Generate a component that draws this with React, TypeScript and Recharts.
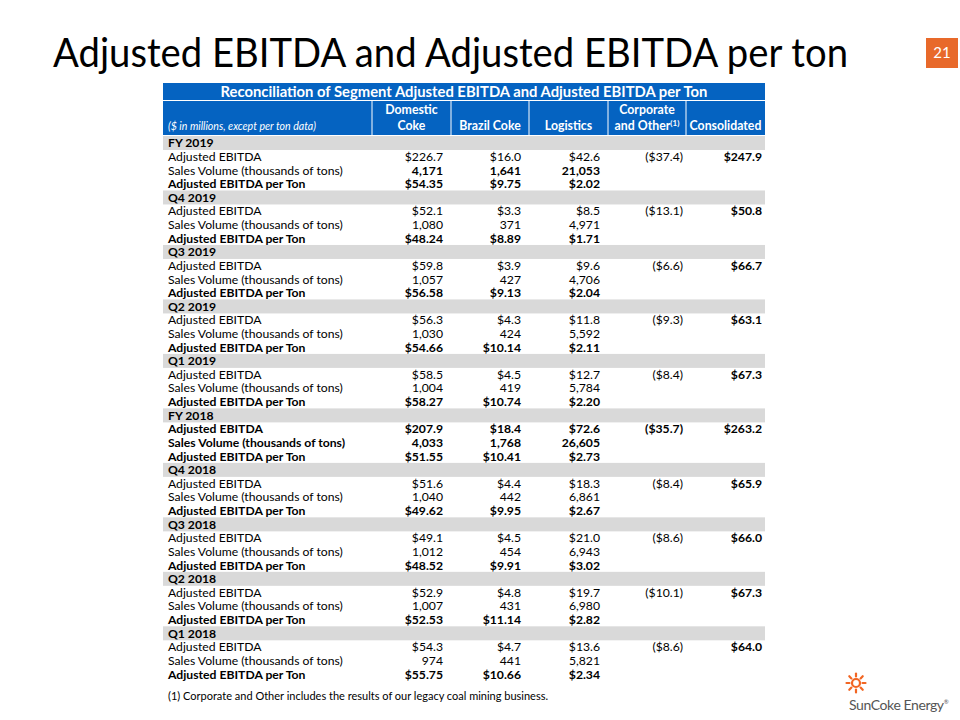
import React from 'react';
import { BarChart, Bar, XAxis, YAxis, Text } from 'recharts';

// periods, newest first
const periods = ['FY 2019', 'Q4 2019', 'Q3 2019', 'Q2 2019', 'Q1 2019', 'FY 2018', 'Q4 2018', 'Q3 2018', 'Q2 2018', 'Q1 2018'];

// Adjusted EBITDA ($ millions)
const domesticEbitda = [226.7, 52.1, 59.8, 56.3, 58.5, 207.9, 51.6, 49.1, 52.9, 54.3];
const brazilEbitda = [16.0, 3.3, 3.9, 4.3, 4.5, 18.4, 4.4, 4.5, 4.8, 4.7];
const logisticsEbitda = [42.6, 8.5, 9.6, 11.8, 12.7, 72.6, 18.3, 21.0, 19.7, 13.6];
const corporateEbitda = [-37.4, -13.1, -6.6, -9.3, -8.4, -35.7, -8.4, -8.6, -10.1, -8.6];
const consolidatedEbitda = [247.9, 50.8, 66.7, 63.1, 67.3, 263.2, 65.9, 66.0, 67.3, 64.0];

// Sales volume (thousands of tons)
const domesticVolume = [4171, 1080, 1057, 1030, 1004, 4033, 1040, 1012, 1007, 974];
const brazilVolume = [1641, 371, 427, 424, 419, 1768, 442, 454, 431, 441];
const logisticsVolume = [21053, 4971, 4706, 5592, 5784, 26605, 6861, 6943, 6980, 5821];

// Adjusted EBITDA per ton ($)
const domesticPerTon = [54.35, 48.24, 56.58, 54.66, 58.27, 51.55, 49.62, 48.52, 52.53, 55.75];
const brazilPerTon = [9.75, 8.89, 9.13, 10.14, 10.74, 10.41, 9.95, 9.91, 11.14, 10.66];
const logisticsPerTon = [2.02, 1.71, 2.04, 2.11, 2.2, 2.73, 2.67, 3.02, 2.82, 2.34];

const columns = ['Domestic Coke', 'Brazil Coke', 'Logistics', 'Corporate and Other', 'Consolidated'];
const boldPeriods = ['FY 2018'];

const BLUE = '#0563C1';
const BAND = '#D9D9D9';
const FONT = 'Lato, "Open Sans", sans-serif';

const TABLE_X = 163;
const TABLE_W = 602;
const ROW_H = 13.62;
// column separators and value right edges, relative to table left
const SEPS = [209, 288, 366, 445, 523];
const RIGHTS = [280, 358, 437, 520, 599];

const money1 = (v?: number) => (v == null ? '' : v < 0 ? `($${Math.abs(v).toFixed(1)})` : `$${v.toFixed(1)}`);
const money2 = (v?: number) => (v == null ? '' : `$${v.toFixed(2)}`);
const count = (v?: number) => (v == null ? '' : v.toLocaleString('en-US'));

type Row = { id: string; slot: number; kind: string; label: string; cells: string[]; bold: boolean; boldCells?: boolean };

const rows: Row[] = [];
periods.forEach((p, i) => {
  const b = boldPeriods.includes(p);
  rows.push({ id: p, slot: 1, kind: 'group', label: p, cells: [], bold: true });
  rows.push({
    id: `${p}-e`, slot: 1, kind: 'ebitda', label: 'Adjusted EBITDA', bold: b,
    cells: [money1(domesticEbitda[i]), money1(brazilEbitda[i]), money1(logisticsEbitda[i]), money1(corporateEbitda[i]), money1(consolidatedEbitda[i])],
  });
  rows.push({
    id: `${p}-v`, slot: 1, kind: 'volume', label: 'Sales Volume (thousands of tons)', bold: b, boldCells: b || i === 0,
    cells: [count(domesticVolume[i]), count(brazilVolume[i]), count(logisticsVolume[i]), '', ''],
  });
  rows.push({
    id: `${p}-t`, slot: 1, kind: 'perTon', label: 'Adjusted EBITDA per Ton', bold: true,
    cells: [money2(domesticPerTon[i]), money2(brazilPerTon[i]), money2(logisticsPerTon[i]), '', ''],
  });
});

const RowShape = (props: any) => {
  const { x, y, width, height, payload } = props;
  const r: Row = payload;
  const cy = y + height / 2;
  return (
    <g>
      {r.kind === 'group' && <rect x={x} y={y} width={width} height={height} fill={BAND} />}
      <Text x={x + 5} y={cy} verticalAnchor="middle" fontFamily={FONT} fontSize={12.2} fill="#000"
        fontWeight={r.bold ? 700 : 400}>
        {r.label}
      </Text>
      {r.cells.map((c, j) =>
        c ? (
          <Text key={j} x={x + RIGHTS[j]} y={cy} textAnchor="end" verticalAnchor="middle" fontFamily={FONT}
            fontSize={12.2} fill="#000" fontWeight={r.bold || r.boldCells || j === 4 ? 700 : 400}>
            {c}
          </Text>
        ) : null
      )}
    </g>
  );
};

const Header = () => (
  <svg width={TABLE_W} height={52} style={{ position: 'absolute', left: TABLE_X, top: 83 }}>
    <rect x={0} y={0} width={TABLE_W} height={17} fill={BLUE} />
    <text x={TABLE_W / 2} y={13.5} textAnchor="middle" fill="#fff" fontFamily={FONT} fontWeight={700} fontSize={14.8}>
      Reconciliation of Segment Adjusted EBITDA and Adjusted EBITDA per Ton
    </text>
    <rect x={0} y={18} width={TABLE_W} height={34} fill={BLUE} />
    {SEPS.map((s) => (
      <line key={s} x1={s} x2={s} y1={18} y2={52} stroke="#fff" strokeWidth={1} />
    ))}
    <text x={5} y={47} fill="#fff" fontFamily={FONT} fontStyle="italic" fontSize={10.6}>
      ($ in millions, except per ton data)
    </text>
    <g fill="#fff" fontFamily={FONT} fontWeight={700} fontSize={12.3} textAnchor="middle">
      <text x={(SEPS[0] + SEPS[1]) / 2} y={31}>Domestic</text>
      <text x={(SEPS[0] + SEPS[1]) / 2} y={47}>Coke</text>
      <text x={(SEPS[1] + SEPS[2]) / 2} y={47}>{columns[1]}</text>
      <text x={(SEPS[2] + SEPS[3]) / 2} y={47}>{columns[2]}</text>
      <text x={(SEPS[3] + SEPS[4]) / 2} y={31}>Corporate</text>
      <text x={(SEPS[3] + SEPS[4]) / 2} y={47}>
        and Other<tspan fontSize={8} dy={-4}>(1)</tspan>
      </text>
      <text x={(SEPS[4] + TABLE_W) / 2} y={47}>{columns[4]}</text>
    </g>
  </svg>
);

const Logo = () => {
  const rays = [0, 45, 90, 135, 180, 225, 270, 315];
  return (
    <svg width={120} height={50} style={{ position: 'absolute', left: 840, top: 670 }}>
      <g transform="translate(16,13)" stroke="#F26522" strokeWidth={2.2} strokeLinecap="round">
        <circle cx={0} cy={0} r={4} fill="none" />
        {rays.map((a) => {
          const rad = (a * Math.PI) / 180;
          return <line key={a} x1={Math.cos(rad) * 6.5} y1={Math.sin(rad) * 6.5} x2={Math.cos(rad) * 9.5} y2={Math.sin(rad) * 9.5} />;
        })}
      </g>
      <text x={9} y={40} fill="#555" fontFamily={FONT} fontSize={14} letterSpacing={-0.4}>
        SunCoke Energy<tspan fontSize={6} dy={-6}>®</tspan>
      </text>
    </svg>
  );
};

export default function App() {
  return (
    <div style={{ position: 'absolute', left: 0, top: 0, width: 960, height: 720, background: '#fff', overflow: 'hidden' }}>
      <svg width={960} height={90} style={{ position: 'absolute', left: 0, top: 0 }}>
        <text x={53} y={67} fontFamily={FONT} fontSize={40} fill="#000" textLength={795} lengthAdjust="spacingAndGlyphs">
          Adjusted EBITDA and Adjusted EBITDA per ton
        </text>
        <rect x={926} y={38} width={32} height={30} fill="#E8692A" />
        <text x={942} y={58} textAnchor="middle" fill="#fff" fontFamily={FONT} fontSize={15}>21</text>
      </svg>
      <Header />
      <div style={{ position: 'absolute', left: TABLE_X, top: 136 }}>
        <BarChart width={TABLE_W} height={ROW_H * rows.length} data={rows} layout="vertical"
          margin={{ top: 0, right: 0, bottom: 0, left: 0 }} barCategoryGap={0}>
          <XAxis type="number" domain={[0, 1]} hide />
          <YAxis type="category" dataKey="id" hide width={0} />
          <Bar dataKey="slot" isAnimationActive={false} shape={RowShape} />
        </BarChart>
      </div>
      <div style={{ position: 'absolute', left: 168, top: 689, fontFamily: FONT, fontSize: 11, color: '#000' }}>
        (1) Corporate and Other includes the results of our legacy coal mining business.
      </div>
      <Logo />
    </div>
  );
}
